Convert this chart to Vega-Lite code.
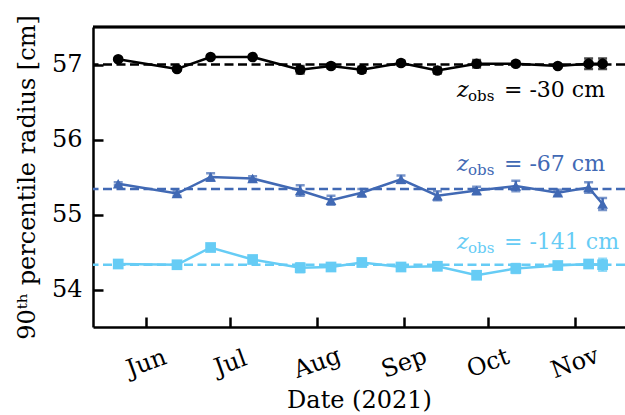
{
  "$schema": "https://vega.github.io/schema/vega-lite/v6.json",
  "width": 532,
  "height": 300,
  "autosize": "none",
  "padding": {"left": 93, "top": 27, "right": 0, "bottom": 88},
  "background": "white",
  "config": {
    "view": {"stroke": null},
    "font": "DejaVu Serif",
    "axis": {
      "domainColor": "black", "domainWidth": 2.5, "tickColor": "black", "tickWidth": 2.5,
      "labelColor": "black", "titleColor": "black", "labelFont": "DejaVu Serif", "titleFont": "DejaVu Serif",
      "labelFontSize": 24, "titleFontSize": 24, "titleFontWeight": "normal", "grid": false
    }
  },
  "datasets": {
    "points": [
      {"series": "-30", "date": "2021-05-22", "value": 57.07, "err": 0.02},
      {"series": "-30", "date": "2021-06-12", "value": 56.94, "err": 0.02},
      {"series": "-30", "date": "2021-06-24", "value": 57.10, "err": 0.02},
      {"series": "-30", "date": "2021-07-09", "value": 57.10, "err": 0.02},
      {"series": "-30", "date": "2021-07-26", "value": 56.93, "err": 0.05},
      {"series": "-30", "date": "2021-08-06", "value": 56.98, "err": 0.03},
      {"series": "-30", "date": "2021-08-17", "value": 56.93, "err": 0.04},
      {"series": "-30", "date": "2021-08-31", "value": 57.02, "err": 0.03},
      {"series": "-30", "date": "2021-09-13", "value": 56.92, "err": 0.04},
      {"series": "-30", "date": "2021-09-27", "value": 57.01, "err": 0.05},
      {"series": "-30", "date": "2021-10-11", "value": 57.01, "err": 0.03},
      {"series": "-30", "date": "2021-10-26", "value": 56.98, "err": 0.02},
      {"series": "-30", "date": "2021-11-06", "value": 57.01, "err": 0.07},
      {"series": "-30", "date": "2021-11-11", "value": 57.01, "err": 0.07},
      {"series": "-67", "date": "2021-05-22", "value": 55.41, "err": 0.02},
      {"series": "-67", "date": "2021-06-12", "value": 55.28, "err": 0.03},
      {"series": "-67", "date": "2021-06-24", "value": 55.50, "err": 0.05},
      {"series": "-67", "date": "2021-07-09", "value": 55.48, "err": 0.03},
      {"series": "-67", "date": "2021-07-26", "value": 55.32, "err": 0.07},
      {"series": "-67", "date": "2021-08-06", "value": 55.19, "err": 0.06},
      {"series": "-67", "date": "2021-08-17", "value": 55.29, "err": 0.05},
      {"series": "-67", "date": "2021-08-31", "value": 55.47, "err": 0.05},
      {"series": "-67", "date": "2021-09-13", "value": 55.25, "err": 0.06},
      {"series": "-67", "date": "2021-09-27", "value": 55.32, "err": 0.05},
      {"series": "-67", "date": "2021-10-11", "value": 55.38, "err": 0.07},
      {"series": "-67", "date": "2021-10-26", "value": 55.29, "err": 0.04},
      {"series": "-67", "date": "2021-11-06", "value": 55.36, "err": 0.07},
      {"series": "-67", "date": "2021-11-11", "value": 55.14, "err": 0.08},
      {"series": "-141", "date": "2021-05-22", "value": 54.34, "err": 0.02},
      {"series": "-141", "date": "2021-06-12", "value": 54.33, "err": 0.02},
      {"series": "-141", "date": "2021-06-24", "value": 54.56, "err": 0.02},
      {"series": "-141", "date": "2021-07-09", "value": 54.40, "err": 0.02},
      {"series": "-141", "date": "2021-07-26", "value": 54.29, "err": 0.06},
      {"series": "-141", "date": "2021-08-06", "value": 54.30, "err": 0.04},
      {"series": "-141", "date": "2021-08-17", "value": 54.36, "err": 0.05},
      {"series": "-141", "date": "2021-08-31", "value": 54.30, "err": 0.03},
      {"series": "-141", "date": "2021-09-13", "value": 54.31, "err": 0.05},
      {"series": "-141", "date": "2021-09-27", "value": 54.19, "err": 0.03},
      {"series": "-141", "date": "2021-10-11", "value": 54.28, "err": 0.06},
      {"series": "-141", "date": "2021-10-26", "value": 54.32, "err": 0.03},
      {"series": "-141", "date": "2021-11-06", "value": 54.34, "err": 0.05},
      {"series": "-141", "date": "2021-11-11", "value": 54.33, "err": 0.08}
    ],
    "refs": [
      {"series": "-30", "value": 57.0},
      {"series": "-67", "value": 55.34},
      {"series": "-141", "value": 54.33}
    ],
    "labels": [
      {"series": "-30", "date": "2021-09-20", "value": 56.57, "text": "= -30 cm"},
      {"series": "-67", "date": "2021-09-20", "value": 55.58, "text": "= -67 cm"},
      {"series": "-141", "date": "2021-09-20", "value": 54.54, "text": "= -141 cm"}
    ]
  },
  "encoding": {
    "y": {
      "field": "value", "type": "quantitative",
      "scale": {"domain": [53.5, 57.5], "nice": false, "zero": false},
      "axis": {
        "values": [54, 55, 56, 57], "tickSize": -10, "labelPadding": 21,
        "title": "90ᵗʰ percentile radius [cm]", "titlePadding": 12
      }
    },
    "color": {
      "field": "series", "type": "nominal",
      "scale": {"domain": ["-30", "-67", "-141"], "range": ["#000000", "#4169B4", "#66CCF5"]},
      "legend": null
    }
  },
  "layer": [
    {
      "data": {"name": "refs"},
      "mark": {"type": "rule", "strokeDash": [9, 4.5], "strokeWidth": 2.5}
    },
    {
      "data": {"name": "refs"},
      "mark": {"type": "rule", "strokeWidth": 2.5, "color": "black"},
      "encoding": {"y": {"datum": 57.5, "type": "quantitative"}, "color": {"value": "black"}}
    },
    {
      "data": {"name": "points"},
      "mark": {"type": "errorbar", "ticks": {"size": 9}, "thickness": 2.5},
      "encoding": {
        "x": {"field": "date", "type": "temporal", "axis": null},
        "yError": {"field": "err"}
      }
    },
    {
      "data": {"name": "points"},
      "mark": {"type": "line", "strokeWidth": 2.5},
      "encoding": {
        "x": {
          "field": "date", "type": "temporal",
          "scale": {"type": "utc", "domain": ["2021-05-13", "2021-11-19"]},
          "axis": {
            "orient": "bottom", "format": "%b", "tickCount": {"interval": "month", "step": 1},
            "tickSize": -10, "labelAngle": -20, "labelAlign": "center", "labelBaseline": "middle",
            "labelPadding": 46, "title": "Date (2021)", "titlePadding": 6
          }
        }
      }
    },
    {
      "data": {"name": "points"},
      "mark": {"type": "point", "filled": true, "opacity": 1, "size": 115},
      "encoding": {
        "x": {"field": "date", "type": "temporal", "axis": null},
        "shape": {
          "field": "series", "type": "nominal",
          "scale": {"domain": ["-30", "-67", "-141"], "range": ["circle", "triangle-up", "square"]},
          "legend": null
        }
      }
    },
    {
      "data": {"name": "labels"},
      "mark": {"type": "text", "text": "z", "fontStyle": "italic", "fontSize": 22, "align": "left", "baseline": "alphabetic"},
      "encoding": {"x": {"field": "date", "type": "temporal", "axis": null}}
    },
    {
      "data": {"name": "labels"},
      "mark": {"type": "text", "text": "obs", "fontSize": 15, "align": "left", "baseline": "alphabetic", "dx": 11, "dy": 4},
      "encoding": {"x": {"field": "date", "type": "temporal", "axis": null}}
    },
    {
      "data": {"name": "labels"},
      "mark": {"type": "text", "fontSize": 22, "align": "left", "baseline": "alphabetic", "dx": 47},
      "encoding": {
        "x": {"field": "date", "type": "temporal", "axis": null},
        "text": {"field": "text"}
      }
    }
  ],
  "resolve": {"axis": {"x": "independent"}}
}
